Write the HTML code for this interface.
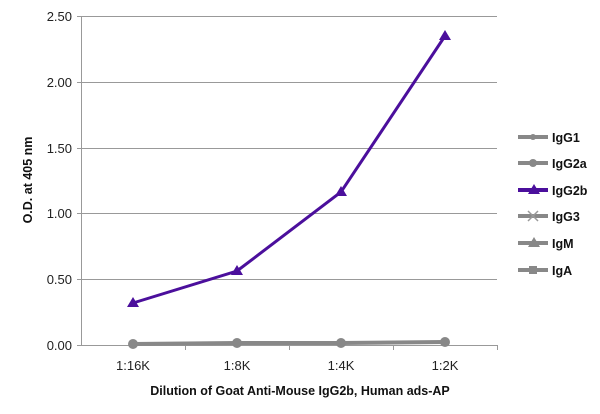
<!DOCTYPE html>
<html><head><style>body{margin:0;background:#fff}svg{display:block}text{font-family:"Liberation Sans",sans-serif}</style></head><body>
<svg width="600" height="414" xmlns="http://www.w3.org/2000/svg">
<g stroke="#999" stroke-width="1">
<line x1="81" y1="16.5" x2="497" y2="16.5"/><line x1="81" y1="82.5" x2="497" y2="82.5"/><line x1="81" y1="148.5" x2="497" y2="148.5"/><line x1="81" y1="213.5" x2="497" y2="213.5"/><line x1="81" y1="279.5" x2="497" y2="279.5"/>
<line x1="81.5" y1="16" x2="81.5" y2="345"/><line x1="77" y1="345.5" x2="497" y2="345.5"/>
<line x1="77" y1="16.5" x2="81" y2="16.5"/><line x1="77" y1="82.5" x2="81" y2="82.5"/><line x1="77" y1="148.5" x2="81" y2="148.5"/><line x1="77" y1="213.5" x2="81" y2="213.5"/><line x1="77" y1="279.5" x2="81" y2="279.5"/>
<line x1="185.5" y1="345" x2="185.5" y2="350"/><line x1="289.5" y1="345" x2="289.5" y2="350"/><line x1="393.5" y1="345" x2="393.5" y2="350"/><line x1="497.5" y1="345" x2="497.5" y2="350"/>
</g>
<g font-size="13" fill="#222" text-anchor="end">
<text x="72" y="21">2.50</text><text x="72" y="87">2.00</text><text x="72" y="153">1.50</text><text x="72" y="218">1.00</text><text x="72" y="284">0.50</text><text x="72" y="350">0.00</text></g>
<g font-size="13" fill="#222" text-anchor="middle">
<text x="133" y="370">1:16K</text><text x="237" y="370">1:8K</text><text x="341" y="370">1:4K</text><text x="445" y="370">1:2K</text></g>
<text x="300" y="395" font-size="12.5" font-weight="bold" text-anchor="middle" fill="#111">Dilution of Goat Anti-Mouse IgG2b, Human ads-AP</text>
<text transform="translate(32,180) rotate(-90)" font-size="12.5" font-weight="bold" text-anchor="middle" fill="#111">O.D. at 405 nm</text>
<polyline points="133,344 237,343 341,343 445,342" fill="none" stroke="#888" stroke-width="4"/>
<g fill="#888"><circle cx="133" cy="344" r="5"/><circle cx="237" cy="343" r="5"/><circle cx="341" cy="343" r="5"/><circle cx="445" cy="342" r="5"/></g>
<polyline points="133,303 237,271 341,192 445,36" fill="none" stroke="#4b0f9c" stroke-width="3"/>
<g fill="#4b0f9c"><polygon points="133,297 139,307 127,307"/><polygon points="237,265 243,275 231,275"/><polygon points="341,186 347,196 335,196"/><polygon points="445,30 451,40 439,40"/></g>
<g font-size="12.5" font-weight="bold" fill="#111">
<line x1="518" y1="137" x2="548" y2="137" stroke="#888" stroke-width="4"/><circle cx="533" cy="137" r="3" fill="#888"/><text x="552" y="142">IgG1</text>
<line x1="518" y1="163" x2="548" y2="163" stroke="#888" stroke-width="4"/><circle cx="533" cy="163" r="4" fill="#888"/><text x="552" y="168">IgG2a</text>
<line x1="518" y1="190" x2="548" y2="190" stroke="#4b0f9c" stroke-width="4"/><polygon points="534,184 540,194 528,194" fill="#4b0f9c"/><text x="552" y="195">IgG2b</text>
<line x1="518" y1="216" x2="548" y2="216" stroke="#888" stroke-width="4"/><path d="M528,211 L538,221 M538,211 L528,221" stroke="#999" stroke-width="1.5"/><text x="552" y="221">IgG3</text>
<line x1="518" y1="243" x2="548" y2="243" stroke="#888" stroke-width="4"/><polygon points="534,237 540,247 528,247" fill="#888"/><text x="552" y="248">IgM</text>
<line x1="518" y1="270" x2="548" y2="270" stroke="#888" stroke-width="4"/><rect x="529" y="266" width="8" height="8" fill="#888"/><text x="552" y="275">IgA</text>
</g>
</svg>
</body></html>
